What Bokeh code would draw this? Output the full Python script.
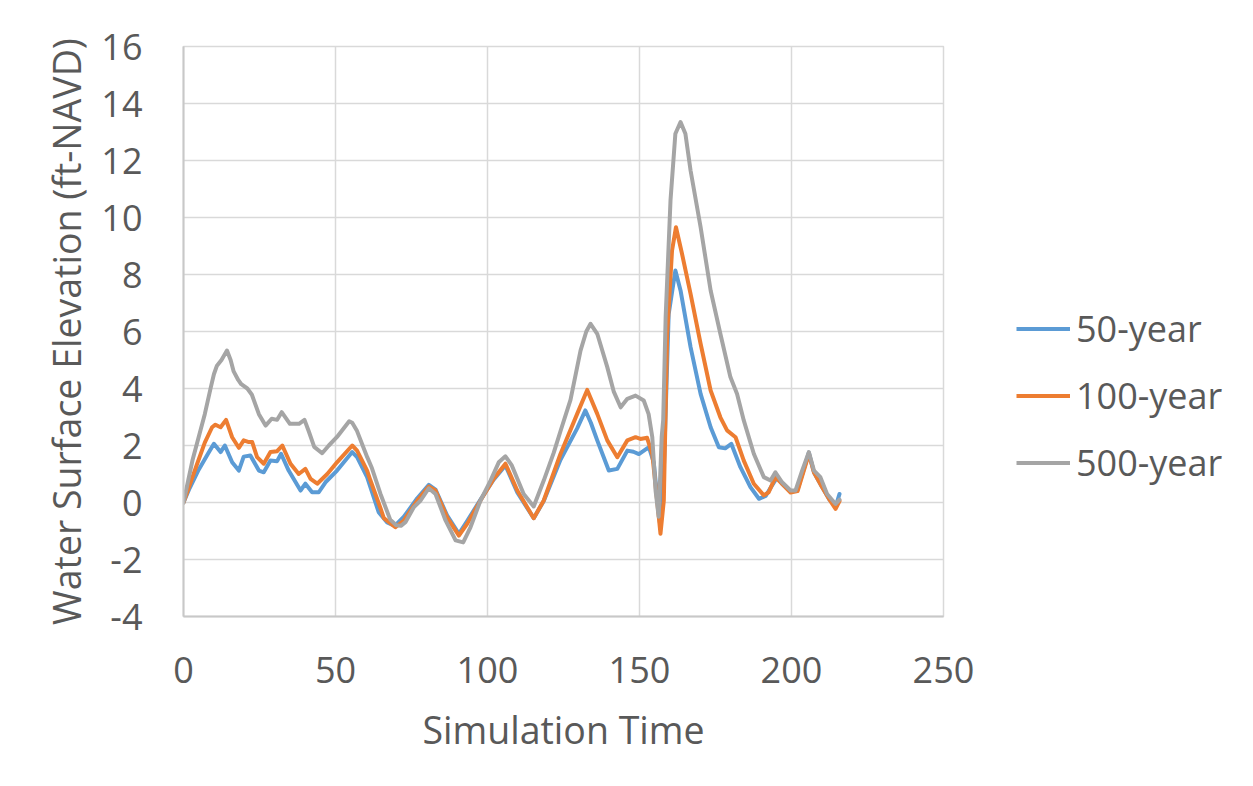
from bokeh.plotting import figure
from bokeh.layouts import row
from bokeh.models import Legend, LegendItem, FixedTicker, Range1d
from bokeh.embed import file_html
from bokeh.resources import INLINE

# ---- data ----
series_names = ["50-year", "100-year", "500-year"]

t50 = [0, 2, 5, 8, 10, 12.2, 13.6, 16, 18.2, 19.8, 22, 24.8, 26.4, 28.6, 30.8, 32.1, 34.6,
       38.5, 40.1, 42.3, 44.5, 46.7, 50.5, 55.5, 57.1, 60.4, 64.2, 67, 69.5, 72.5, 76.9,
       80.7, 82.9, 86.7, 90.6, 93.3, 97.7, 102, 105.9, 109.8, 115.2, 118.5, 124, 129.5,
       132.2, 134, 136.1, 139.9, 142.7, 146, 148, 149.8, 153.1, 154.7, 155.8, 156.9, 158,
       159.6, 161.8, 163.5, 166.8, 170.1, 173.4, 176.1, 178.2, 180.2, 183.2, 186.5, 189.3,
       191.5, 193.6, 195.3, 197, 199.7, 202, 205.7, 207.4, 210, 212.5, 214.5, 215.8]
h50 = [0, 0.5, 1.15, 1.7, 2.06, 1.77, 2.0, 1.41, 1.12, 1.61, 1.65, 1.12, 1.06, 1.47, 1.45, 1.71, 1.12,
       0.42, 0.66, 0.36, 0.36, 0.71, 1.12, 1.77, 1.59, 0.89, -0.34, -0.7, -0.82, -0.5, 0.15,
       0.62, 0.45, -0.45, -1.1, -0.65, 0.1, 0.8, 1.3, 0.35, -0.55, 0.05, 1.5, 2.6,
       3.23, 2.8, 2.18, 1.12, 1.18, 1.82, 1.78, 1.7, 1.94, 1.4, 0.2, -0.9, 1.1,
       6.62, 8.14, 7.44, 5.45, 3.81, 2.64, 1.94, 1.9, 2.06, 1.24, 0.54, 0.13,
       0.23, 0.6, 0.89, 0.65, 0.38, 0.45, 1.75, 1.05, 0.55, 0.1, -0.15, 0.3]

t100 = [0, 2, 4.5, 7, 9.4, 10.5, 12.2, 14, 16, 18.2, 19.8, 21.5, 22.6, 24.2, 26.4, 28.6, 30.8,
        32.5, 35.2, 37.9, 40.1, 41.8, 44, 47.3, 50.5, 55.5, 57.1, 60.4, 61.5, 64.8, 65.9,
        69.7, 72.5, 76.9, 80.7, 82.9, 86.7, 90.6, 93.3, 97.7, 102, 105.9, 109.8, 115.2,
        118.5, 124, 129.5, 132.8, 136.1, 139.4, 142.7, 146, 148.7, 150.3, 152.5, 154.2,
        155.8, 156.9, 158, 159.1, 160.7, 162, 164, 166.8, 170.1, 173.4, 176.6, 178.8,
        181.6, 184.3, 187.6, 190.9, 192.5, 194.7, 196.9, 199.7, 202, 205.7, 207.4, 210,
        212.5, 214.5, 215.8]
h100 = [0, 0.6, 1.36, 2.1, 2.64, 2.73, 2.64, 2.9, 2.29, 1.92, 2.18, 2.12, 2.12, 1.59, 1.36, 1.77, 1.8,
        2.0, 1.36, 1.0, 1.18, 0.83, 0.66, 1.0, 1.41, 2.0, 1.82, 1.12, 0.77, -0.2, -0.55,
        -0.87, -0.63, 0.07, 0.56, 0.42, -0.52, -1.16, -0.75, 0.07, 0.83, 1.36, 0.42, -0.55,
        0.07, 1.7, 3.11, 3.95, 3.11, 2.18, 1.59, 2.18, 2.29, 2.23, 2.27, 1.7,
        0.07, -1.1, 0.07, 5.9, 8.84, 9.66, 8.72, 7.32, 5.57, 3.93, 2.99, 2.53,
        2.29, 1.47, 0.66, 0.25, 0.36, 0.89, 0.65, 0.35, 0.4, 1.7, 1.05, 0.55,
        0.1, -0.22, 0.05]

t500 = [0, 3, 5, 7, 9, 10, 11, 12.5, 14.3, 15.5, 16.5, 18, 19, 21, 22.5, 24.8, 27, 29, 30.8,
        32.3, 35, 38, 39.8, 41.2, 43, 45.6, 47.8, 50.5, 54.5, 55.5, 57, 60.4, 62, 64.8,
        68, 70, 71.5, 73, 75.8, 78, 80.7, 82.9, 86.2, 89.5, 92, 94.4, 97.7, 101, 103.7,
        105.9, 108, 111.9, 115.2, 118.5, 121.8, 124, 127.3, 130.6, 132.5, 133.9, 136.1,
        139.4, 141.5, 143.8, 146, 148.7, 151.4, 153, 154.2, 155.3, 156.3, 157.3, 157.8,
        158.6, 160.2, 161.8, 163.5, 165.1, 166.8, 170.1, 173.4, 176.6, 179.9, 182.1,
        184.3, 187.6, 190.9, 193.1, 194.7, 196.9, 199.7, 201.3, 203.5, 205.7, 207.4,
        209.5, 211.7, 214.5, 215.8]
h500 = [0, 1.5, 2.3, 3.1, 4.05, 4.5, 4.8, 5.0, 5.33, 5.0, 4.6, 4.3, 4.15, 4.0, 3.78, 3.1, 2.7, 2.94, 2.9,
        3.17, 2.76, 2.76, 2.9, 2.5, 1.95, 1.73, 2.0, 2.3, 2.85, 2.8, 2.53, 1.6, 1.2, 0.3,
        -0.6, -0.8, -0.82, -0.69, -0.16, 0.07, 0.5, 0.3, -0.63, -1.33, -1.4, -0.87, 0.07, 0.77, 1.41,
        1.62, 1.3, 0.3, -0.14, 0.77, 1.75, 2.5, 3.6, 5.33, 6.0, 6.27, 5.92,
        4.75, 3.9, 3.34, 3.64, 3.75, 3.58, 3.1, 2.3, 0.4, -0.5, 2.3, 2.9,
        6.5, 10.6, 12.94, 13.35, 12.94, 11.65, 9.66, 7.44, 5.92, 4.4, 3.81,
        2.88, 1.71, 0.89, 0.77, 1.06, 0.71, 0.42, 0.42, 1.12, 1.77, 1.12,
        0.89, 0.3, -0.05, 0.1]

x_ticks = [0, 50, 100, 150, 200, 250]
y_ticks = [-4, -2, 0, 2, 4, 6, 8, 10, 12, 14, 16]
colors = ["#5B9BD5", "#ED7D31", "#A5A5A5"]

FONT = "Open Sans"
TXT = "#595959"
LW = 4

series = [(t50, h50), (t100, h100), (t500, h500)]

p = figure(width=983, height=770, output_backend="svg", toolbar_location=None,
           x_range=Range1d(0, 250), y_range=Range1d(-4, 16),
           min_border_left=183, min_border_right=40, min_border_top=46, min_border_bottom=154)
p.background_fill_color = "white"
p.border_fill_color = "white"
p.outline_line_color = "#D9D9D9"
p.outline_line_width = 1.5

p.xaxis.ticker = FixedTicker(ticks=x_ticks)
p.yaxis.ticker = FixedTicker(ticks=y_ticks)
p.yaxis.major_label_overrides = {v: str(v) for v in y_ticks}
for ax in (p.xaxis[0], p.yaxis[0]):
    ax.major_tick_line_color = None
    ax.minor_tick_line_color = None
    ax.axis_line_color = "#C8C8C8"
    ax.axis_line_width = 2
    ax.major_label_text_font = FONT
    ax.major_label_text_font_size = "36px"
    ax.major_label_text_color = TXT
    ax.axis_label_text_font = FONT
    ax.axis_label_text_font_size = "37.5px"
    ax.axis_label_text_color = TXT
    ax.axis_label_text_font_style = "normal"
p.xaxis.axis_label = "Simulation Time"
p.yaxis.axis_label = "Water Surface Elevation (ft-NAVD)"
p.xaxis.major_label_standoff = 34
p.yaxis.major_label_standoff = 35
p.xaxis.axis_label_standoff = 18
p.yaxis.axis_label_standoff = 6

p.xgrid.grid_line_color = "#D9D9D9"
p.ygrid.grid_line_color = "#D9D9D9"
p.xgrid.grid_line_width = 1.5
p.ygrid.grid_line_width = 1.5

for (tx, hy), c in zip(series, colors):
    p.line(tx, hy, line_color=c, line_width=LW, line_join="round", line_cap="round")

# ---- legend panel (a separate, axis-less figure to the right) ----
# its ranges lie far outside the data, so its proxy lines only feed the legend glyphs
lg = figure(width=1237 - 983, height=770, output_backend="svg", toolbar_location=None,
            x_range=Range1d(1000, 1001), y_range=Range1d(1000, 1001),
            min_border_left=0, min_border_right=0, min_border_top=0, min_border_bottom=0)
lg.axis.visible = False
lg.grid.visible = False
lg.outline_line_color = None
lg.background_fill_color = "white"
lg.border_fill_color = "white"
proxies = [lg.line(tx, hy, line_color=c, line_width=LW) for (tx, hy), c in zip(series, colors)]

legend = Legend(items=[LegendItem(label=n, renderers=[r]) for n, r in zip(series_names, proxies)],
                location=(33, 120))
legend.label_text_font = FONT
legend.label_text_font_size = "36px"
legend.label_text_color = TXT
legend.border_line_color = None
legend.background_fill_alpha = 0
legend.padding = 0
legend.margin = 0
legend.spacing = 0
legend.glyph_width = 54
legend.glyph_height = 67
legend.label_height = 67
legend.label_standoff = 6
lg.add_layout(legend, "center")

layout = row(p, lg)
open("out.html", "w").write(file_html(layout, INLINE))
